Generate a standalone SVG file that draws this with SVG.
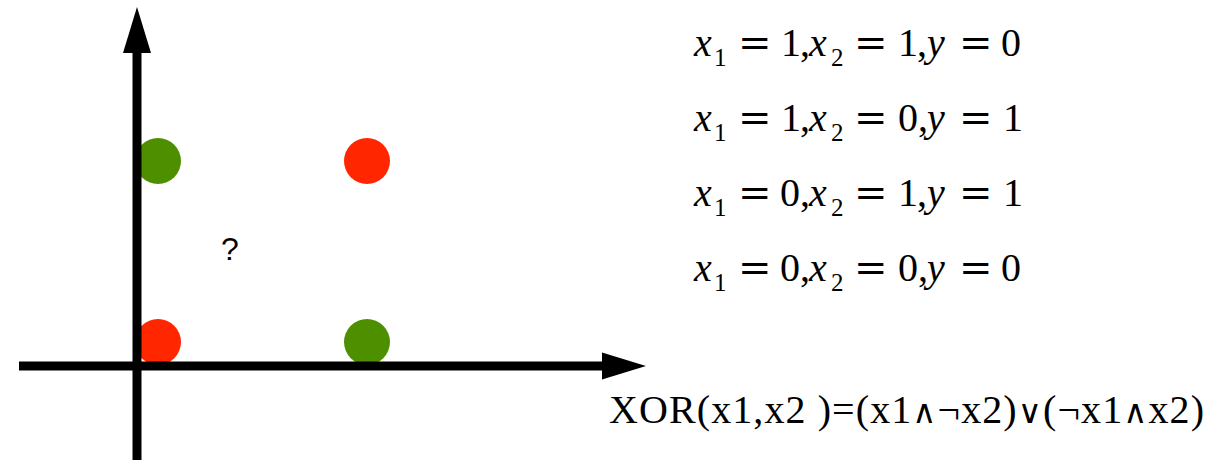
<svg xmlns="http://www.w3.org/2000/svg" width="1212" height="460" viewBox="0 0 1212 460">
<style>
.g{fill:#4e8f00}
.r{fill:#ff2600}
.ax{stroke:#000;stroke-width:9;fill:none}
.hd{fill:#000}
.eq{font-family:"Liberation Serif","Times New Roman",serif;font-size:40px;fill:#000}
.it{font-style:italic}
.sb{font-size:25px}
.op{font-family:"DejaVu Serif",serif}
.lg{font-family:"DejaVu Sans",sans-serif;font-size:33px}
.q{font-family:"Liberation Sans",Arial,sans-serif;font-size:32px;fill:#000}
</style>
<rect width="1212" height="460" fill="#fff"/>
<g id="points">
<circle id="p01" class="g" cx="158" cy="161" r="23"/>
<circle id="p11" class="r" cx="367" cy="161" r="23"/>
<circle id="p00" class="r" cx="158" cy="342" r="23"/>
<circle id="p10" class="g" cx="367" cy="342" r="23"/>
</g>
<g id="axes">
<line class="ax" x1="137" y1="50" x2="137" y2="460"/>
<polygon class="hd" points="137,7 123,53 151,53"/>
<line class="ax" x1="19" y1="366" x2="604" y2="366"/>
<polygon class="hd" points="646,366 602,352.5 602,379.5"/>
</g>
<text id="question" class="q" x="221" y="260">?</text>
<g id="equations" class="eq">
<text y="56"><tspan class="it" x="694">x</tspan><tspan class="sb" x="714" y="66">1</tspan><tspan class="op" x="738" y="56">=</tspan><tspan x="781">1</tspan><tspan x="800">,</tspan><tspan class="it" x="809">x</tspan><tspan class="sb" x="831" y="66">2</tspan><tspan class="op" x="854" y="56">=</tspan><tspan x="898">1</tspan><tspan x="917">,</tspan><tspan class="it" x="927">y</tspan><tspan class="op" x="959">=</tspan><tspan x="1001">0</tspan></text>
<text y="131"><tspan class="it" x="694">x</tspan><tspan class="sb" x="714" y="141">1</tspan><tspan class="op" x="738" y="131">=</tspan><tspan x="781">1</tspan><tspan x="800">,</tspan><tspan class="it" x="809">x</tspan><tspan class="sb" x="831" y="141">2</tspan><tspan class="op" x="854" y="131">=</tspan><tspan x="898">0</tspan><tspan x="918">,</tspan><tspan class="it" x="927">y</tspan><tspan class="op" x="959">=</tspan><tspan x="1003">1</tspan></text>
<text y="206"><tspan class="it" x="694">x</tspan><tspan class="sb" x="714" y="216">1</tspan><tspan class="op" x="738" y="206">=</tspan><tspan x="780">0</tspan><tspan x="800">,</tspan><tspan class="it" x="809">x</tspan><tspan class="sb" x="831" y="216">2</tspan><tspan class="op" x="854" y="206">=</tspan><tspan x="898">1</tspan><tspan x="917">,</tspan><tspan class="it" x="927">y</tspan><tspan class="op" x="959">=</tspan><tspan x="1003">1</tspan></text>
<text y="281"><tspan class="it" x="694">x</tspan><tspan class="sb" x="714" y="291">1</tspan><tspan class="op" x="738" y="281">=</tspan><tspan x="780">0</tspan><tspan x="800">,</tspan><tspan class="it" x="809">x</tspan><tspan class="sb" x="831" y="291">2</tspan><tspan class="op" x="854" y="281">=</tspan><tspan x="898">0</tspan><tspan x="918">,</tspan><tspan class="it" x="927">y</tspan><tspan class="op" x="959">=</tspan><tspan x="1001">0</tspan></text>
</g>
<text id="xor" class="eq" x="609" y="423" textLength="595" lengthAdjust="spacing">XOR(x1,x2 )=(x1<tspan class="lg">∧</tspan>¬x2)<tspan class="lg">∨</tspan>(¬x1<tspan class="lg">∧</tspan>x2)</text>
</svg>
